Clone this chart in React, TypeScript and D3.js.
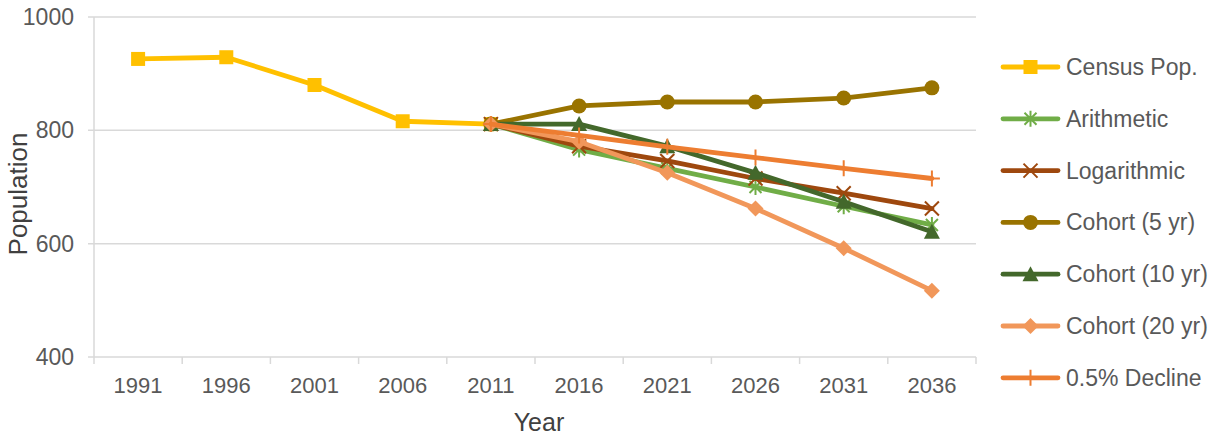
import React from "react";
import * as d3 from "d3";

const years = ["1991", "1996", "2001", "2006", "2011", "2016", "2021", "2026", "2031", "2036"];
const yTicks = [400, 600, 800, 1000];

const censusPop: (number | null)[] = [926, 929, 880, 816, 811, null, null, null, null, null];
const arithmetic: (number | null)[] = [null, null, null, null, 811, 766, 733, 700, 666, 633];
const logarithmic: (number | null)[] = [null, null, null, null, 811, 772, 746, 715, 689, 662];
const cohort5: (number | null)[] = [null, null, null, null, 811, 843, 850, 850, 857, 875];
const cohort10: (number | null)[] = [null, null, null, null, 811, 811, 772, 725, 674, 621];
const cohort20: (number | null)[] = [null, null, null, null, 811, 780, 725, 662, 592, 517];
const decline: (number | null)[] = [null, null, null, null, 811, 791, 771, 752, 733, 715];

const seriesNames = ["Census Pop.", "Arithmetic", "Logarithmic", "Cohort (5 yr)", "Cohort (10 yr)", "Cohort (20 yr)", "0.5% Decline"];
const seriesValues = [censusPop, arithmetic, logarithmic, cohort5, cohort10, cohort20, decline];
const seriesColors = ["#FFC000", "#70AD47", "#9E480E", "#997300", "#43682B", "#F1975A", "#ED7D31"];
const seriesMarkers = ["square", "star", "x", "circle", "triangle", "diamond", "plus"];

const FONT = "'Liberation Sans', Arial, sans-serif";
const TEXT = "#595959";

function Marker({ kind, x, y, color }: { kind: string; x: number; y: number; color: string }) {
  switch (kind) {
    case "square":
      return <rect x={x - 7} y={y - 7} width={14} height={14} fill={color} />;
    case "circle":
      return <circle cx={x} cy={y} r={7.5} fill={color} />;
    case "triangle":
      return <path d={`M${x},${y - 8}L${x + 8},${y + 7}L${x - 8},${y + 7}Z`} fill={color} />;
    case "diamond":
      return <path d={`M${x},${y - 8}L${x + 8},${y}L${x},${y + 8}L${x - 8},${y}Z`} fill={color} />;
    case "x":
      return (
        <path d={`M${x - 7},${y - 7}L${x + 7},${y + 7}M${x - 7},${y + 7}L${x + 7},${y - 7}`} stroke={color} strokeWidth={2} fill="none" />
      );
    case "plus":
      return (
        <path d={`M${x - 8},${y}L${x + 8},${y}M${x},${y - 8}L${x},${y + 8}`} stroke={color} strokeWidth={2} fill="none" />
      );
    case "star":
      return (
        <path
          d={`M${x - 6},${y - 6}L${x + 6},${y + 6}M${x - 6},${y + 6}L${x + 6},${y - 6}M${x},${y - 8}L${x},${y + 8}`}
          stroke={color}
          strokeWidth={2}
          fill="none"
        />
      );
    default:
      return null;
  }
}

export default function App() {
  const width = 1220;
  const height = 438;
  const left = 94;
  const right = 976;
  const top = 17;
  const bottom = 357;

  const x = d3.scaleBand<string>().domain(years).range([left, right]).padding(0);
  const y = d3.scaleLinear().domain([400, 1000]).range([bottom, top]);
  const cx = (yr: string) => (x(yr) as number) + x.bandwidth() / 2;

  const line = d3
    .line<[string, number | null]>()
    .defined((d) => d[1] != null)
    .x((d) => cx(d[0]))
    .y((d) => y(d[1] as number));

  const boundaries = years.map((yr) => x(yr) as number).concat([right]);

  const legendX0 = 1003;
  const legendX1 = 1058;
  const legendTextX = 1066;
  const legendY0 = 67;
  const legendStep = 51.8;

  return (
    <svg width={width} height={height} style={{ position: "absolute", left: 0, top: 0, background: "#fff" }}>
      {yTicks.map((t) => (
        <line key={t} x1={left - 6} x2={right} y1={y(t)} y2={y(t)} stroke="#D9D9D9" strokeWidth={1.5} />
      ))}
      <line x1={left} x2={left} y1={top} y2={bottom} stroke="#D9D9D9" strokeWidth={1.5} />
      {boundaries.map((b, i) => (
        <line key={i} x1={b} x2={b} y1={bottom} y2={bottom + 7} stroke="#D9D9D9" strokeWidth={1.5} />
      ))}
      {yTicks.map((t) => (
        <text key={t} x={74} y={y(t)} dy="0.35em" textAnchor="end" fontFamily={FONT} fontSize={23} fill={TEXT}>
          {t}
        </text>
      ))}
      {years.map((yr) => (
        <text key={yr} x={cx(yr)} y={393} textAnchor="middle" fontFamily={FONT} fontSize={22} fill={TEXT}>
          {yr}
        </text>
      ))}
      <text x={(left + right) / 2 + 4} y={431} textAnchor="middle" fontFamily={FONT} fontSize={25} fill="#404040">
        Year
      </text>
      <text
        transform={`translate(27,${194}) rotate(-90)`}
        textAnchor="middle"
        fontFamily={FONT}
        fontSize={26}
        fill="#404040"
      >
        Population
      </text>
      {seriesValues.map((vals, si) => {
        const pts = years.map((yr, i) => [yr, vals[i]] as [string, number | null]);
        return (
          <g key={si}>
            <path d={line(pts) || ""} fill="none" stroke={seriesColors[si]} strokeWidth={4.8} strokeLinejoin="round" strokeLinecap="round" />
            {pts
              .filter((p) => p[1] != null)
              .map((p) => (
                <Marker key={p[0]} kind={seriesMarkers[si]} x={cx(p[0])} y={y(p[1] as number)} color={seriesColors[si]} />
              ))}
          </g>
        );
      })}
      {seriesNames.map((name, si) => {
        const ly = legendY0 + si * legendStep;
        return (
          <g key={name}>
            <line x1={legendX0} x2={legendX1} y1={ly} y2={ly} stroke={seriesColors[si]} strokeWidth={4.8} strokeLinecap="round" />
            <Marker kind={seriesMarkers[si]} x={(legendX0 + legendX1) / 2} y={ly} color={seriesColors[si]} />
            <text x={legendTextX} y={ly} dy="0.35em" fontFamily={FONT} fontSize={23} fill={TEXT}>
              {name}
            </text>
          </g>
        );
      })}
    </svg>
  );
}
